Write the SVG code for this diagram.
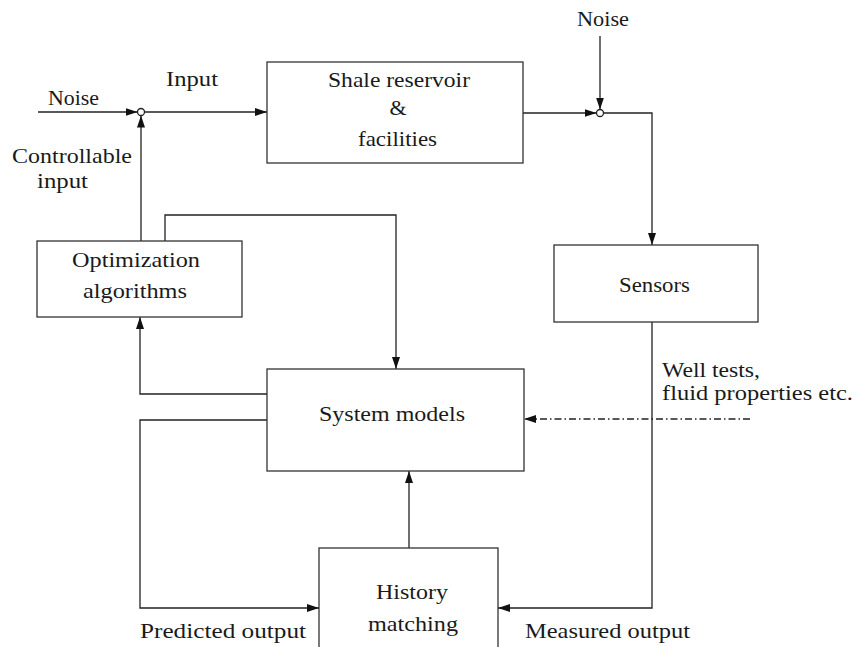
<svg xmlns="http://www.w3.org/2000/svg" width="855" height="647" viewBox="0 0 855 647">
<style>
text{font-family:"Liberation Serif","DejaVu Serif","Times New Roman",serif;font-size:22px;fill:#1a1a1a}
.box{fill:#fff;stroke:#333;stroke-width:1.3}
.ln{fill:none;stroke:#222;stroke-width:1.3}
.dd{fill:none;stroke:#222;stroke-width:1.3;stroke-dasharray:7 3 1.5 3}
.jn{fill:#fff;stroke:#222;stroke-width:1.3}
</style>
<defs>
<marker id="ah" markerUnits="userSpaceOnUse" markerWidth="12" markerHeight="8" refX="12" refY="4" orient="auto">
<path d="M0,0 L12,4 L0,8 z" fill="#111"/>
</marker>
</defs>
<g id="connectors">
<line class="ln" x1="38" y1="112" x2="137.5" y2="112" marker-end="url(#ah)"/>
<line class="ln" x1="141" y1="241" x2="141" y2="115.5" marker-end="url(#ah)"/>
<line class="ln" x1="144.5" y1="112" x2="267" y2="112" marker-end="url(#ah)"/>
<line class="ln" x1="523" y1="113" x2="596.5" y2="113" marker-end="url(#ah)"/>
<line class="ln" x1="600" y1="36" x2="600" y2="109.5" marker-end="url(#ah)"/>
<polyline class="ln" points="603.5,113 652,113 652,245" marker-end="url(#ah)"/>
<polyline class="ln" points="165,241 165,215 396,215 396,369" marker-end="url(#ah)"/>
<polyline class="ln" points="267,394 140,394 140,317" marker-end="url(#ah)"/>
<polyline class="ln" points="267,420 140,420 140,608 319,608" marker-end="url(#ah)"/>
<polyline class="ln" points="652,322 652,608 498,608" marker-end="url(#ah)"/>
<line class="ln" x1="409" y1="548" x2="409" y2="471" marker-end="url(#ah)"/>
<line class="dd" x1="750" y1="419" x2="524" y2="419" marker-end="url(#ah)"/>
<circle class="jn" cx="141" cy="112" r="3.5"/>
<circle class="jn" cx="600" cy="113" r="3.5"/>
</g>
<g id="labels" font-family="Liberation Serif, DejaVu Serif, serif">
<text x="48" y="105" textLength="51" lengthAdjust="spacingAndGlyphs">Noise</text>
<text x="166" y="86" textLength="52" lengthAdjust="spacingAndGlyphs">Input</text>
<text x="12" y="163" textLength="120" lengthAdjust="spacingAndGlyphs">Controllable</text>
<text x="37" y="188" textLength="51" lengthAdjust="spacingAndGlyphs">input</text>
<text x="577" y="26" textLength="52" lengthAdjust="spacingAndGlyphs">Noise</text>
<text x="662" y="377" textLength="98" lengthAdjust="spacingAndGlyphs">Well tests,</text>
<text x="662" y="400" textLength="191" lengthAdjust="spacingAndGlyphs">fluid properties etc.</text>
<text x="140" y="638" textLength="166" lengthAdjust="spacingAndGlyphs">Predicted output</text>
<text x="525" y="638" textLength="165" lengthAdjust="spacingAndGlyphs">Measured output</text>
</g>
<g id="shale">
<rect class="box" x="267" y="62" width="256" height="101"/>
<text x="328" y="87" textLength="142" lengthAdjust="spacingAndGlyphs">Shale reservoir</text>
<text x="398" y="115" text-anchor="middle">&amp;</text>
<text x="358" y="146" textLength="79" lengthAdjust="spacingAndGlyphs">facilities</text>
</g>
<g id="sensors">
<rect class="box" x="554" y="245" width="204" height="77"/>
<text x="619" y="292" textLength="71" lengthAdjust="spacingAndGlyphs">Sensors</text>
</g>
<g id="optimization">
<rect class="box" x="37" y="241" width="205" height="76"/>
<text x="72" y="267" textLength="128" lengthAdjust="spacingAndGlyphs">Optimization</text>
<text x="83" y="298" textLength="104" lengthAdjust="spacingAndGlyphs">algorithms</text>
</g>
<g id="system-models">
<rect class="box" x="267" y="369" width="257" height="102"/>
<text x="319" y="421" textLength="146" lengthAdjust="spacingAndGlyphs">System models</text>
</g>
<g id="history-matching">
<rect class="box" x="319" y="548" width="179" height="120"/>
<text x="376" y="599" textLength="72" lengthAdjust="spacingAndGlyphs">History</text>
<text x="368" y="631" textLength="90" lengthAdjust="spacingAndGlyphs">matching</text>
</g>
</svg>
